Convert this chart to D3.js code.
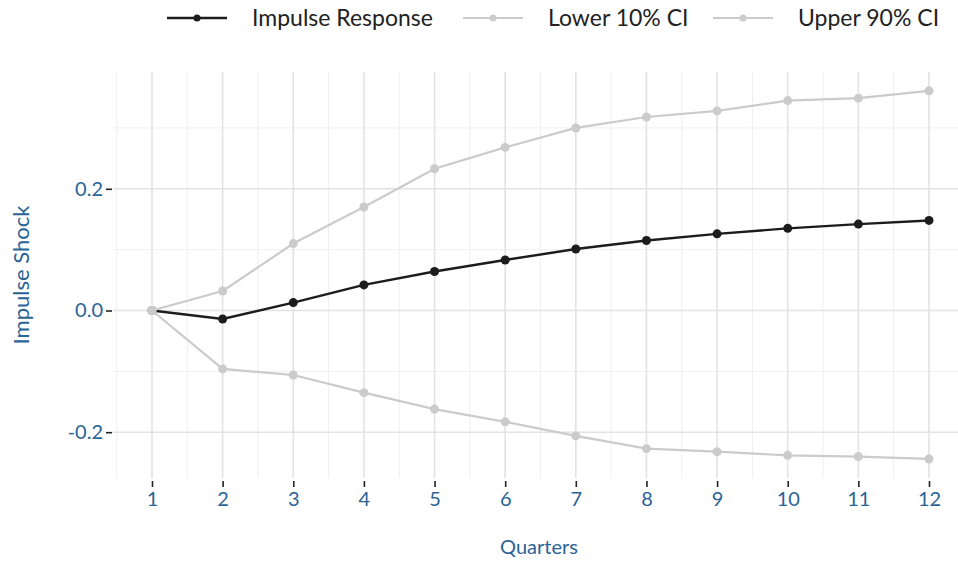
<!DOCTYPE html>
<html>
<head>
<meta charset="utf-8">
<script src="https://cdn.jsdelivr.net/npm/d3@7"></script>
<style>
  body { margin: 0; background: #fff; }
  text { font-family: Lato, "Open Sans", sans-serif; }
</style>
</head>
<body>
<div id="chart"></div>
<script>
// quarters on the x axis
const quarters = [1, 2, 3, 4, 5, 6, 7, 8, 9, 10, 11, 12];
// series
const impulse = [0, -0.014, 0.013, 0.042, 0.064, 0.083, 0.101, 0.115, 0.126, 0.135, 0.142, 0.148];
const lower10 = [0, -0.096, -0.106, -0.135, -0.162, -0.183, -0.206, -0.227, -0.232, -0.238, -0.240, -0.244];
const upper90 = [0, 0.032, 0.110, 0.170, 0.233, 0.268, 0.300, 0.318, 0.328, 0.345, 0.349, 0.361];
const yTicks = [-0.2, 0.0, 0.2];
const yMinor = [-0.1, 0.1, 0.3];
const legendNames = ["Impulse Response", "Lower 10% CI", "Upper 90% CI"];

const W = 958, H = 565;
const panel = { left: 113, right: 958, top: 72, bottom: 478 };
const blue = "#2a6496";

const svg = d3.select("#chart").append("svg")
  .attr("width", W).attr("height", H);

// x: 1 -> 152, 12 -> 929
const x = d3.scaleLinear().domain([1, 12]).range([152, 929]);
// y: 0 -> 310.5, 0.2 -> 188.8
const y = d3.scaleLinear().domain([-0.2, 0.2]).range([432.2, 188.8]);

const g = svg.append("g");

// minor grid
const xMinor = d3.range(0.5, 13, 1);
g.selectAll(".xminor").data(xMinor).join("line")
  .attr("x1", d => x(d)).attr("x2", d => x(d))
  .attr("y1", panel.top).attr("y2", panel.bottom)
  .attr("stroke", "#efefef").attr("stroke-width", 1);
g.selectAll(".yminor").data(yMinor).join("line")
  .attr("x1", panel.left).attr("x2", panel.right)
  .attr("y1", d => y(d)).attr("y2", d => y(d))
  .attr("stroke", "#efefef").attr("stroke-width", 1);

// major grid
g.selectAll(".xmajor").data(quarters).join("line")
  .attr("x1", d => x(d)).attr("x2", d => x(d))
  .attr("y1", panel.top).attr("y2", panel.bottom)
  .attr("stroke", "#e3e3e3").attr("stroke-width", 1.6);
g.selectAll(".ymajor").data(yTicks).join("line")
  .attr("x1", panel.left).attr("x2", panel.right)
  .attr("y1", d => y(d)).attr("y2", d => y(d))
  .attr("stroke", "#e3e3e3").attr("stroke-width", 1.6);

// axes
const xAxis = d3.axisBottom(x).tickValues(quarters).tickSize(6).tickPadding(5).tickFormat(d3.format("d"));
const gx = svg.append("g").attr("transform", `translate(0,${panel.bottom + 3})`).call(xAxis);
gx.select(".domain").remove();
gx.selectAll(".tick line").attr("stroke", "#222").attr("stroke-width", 1.6);
gx.selectAll(".tick text").attr("fill", blue).style("font-size", "20px");

// plain hyphen for negatives, as in the source
const yFmt = d => d3.format(".1f")(d).replace("\u2212", "-");
const yAxis = d3.axisLeft(y).tickValues(yTicks).tickSize(6).tickPadding(3).tickFormat(yFmt);
const gy = svg.append("g").attr("transform", `translate(${panel.left - 1},0)`).call(yAxis);
gy.select(".domain").remove();
gy.selectAll(".tick line").attr("stroke", "#222").attr("stroke-width", 1.6);
gy.selectAll(".tick text").attr("fill", blue).style("font-size", "20px");

// axis titles
svg.append("text").attr("x", 539).attr("y", 554)
  .attr("text-anchor", "middle").attr("fill", blue).style("font-size", "20px").text("Quarters");
svg.append("text").attr("transform", `translate(29,${(panel.top + panel.bottom) / 2}) rotate(-90)`)
  .attr("text-anchor", "middle").attr("fill", blue).style("font-size", "22px").text("Impulse Shock");

// series
const series = [
  { name: legendNames[0], values: impulse, color: "#1c1c1c", width: 2.4 },
  { name: legendNames[1], values: lower10, color: "#cbcbcb", width: 2.2 },
  { name: legendNames[2], values: upper90, color: "#cbcbcb", width: 2.2 }
];

const line = d3.line()
  .x((d, i) => x(quarters[i]))
  .y(d => y(d));

series.forEach(s => {
  g.append("path")
    .datum(s.values)
    .attr("fill", "none")
    .attr("stroke", s.color)
    .attr("stroke-width", s.width)
    .attr("d", line);
  g.selectAll(null).data(s.values).join("circle")
    .attr("cx", (d, i) => x(quarters[i]))
    .attr("cy", d => y(d))
    .attr("r", 4.5)
    .attr("fill", s.color);
});

// legend
const legendX = [167, 463, 713];
const lg = svg.append("g").attr("transform", "translate(0,18)");
series.forEach((s, i) => {
  const item = lg.append("g").attr("transform", `translate(${legendX[i]},0)`);
  item.append("line").attr("x1", 0).attr("x2", 60).attr("y1", 0).attr("y2", 0)
    .attr("stroke", s.color).attr("stroke-width", s.width);
  item.append("circle").attr("cx", 30).attr("cy", 0).attr("r", 3.5).attr("fill", s.color);
  item.append("text").attr("x", 85).attr("y", 0).attr("dy", "0.35em")
    .attr("fill", "#222").style("font-size", "23px").text(s.name);
});
</script>
</body>
</html>
